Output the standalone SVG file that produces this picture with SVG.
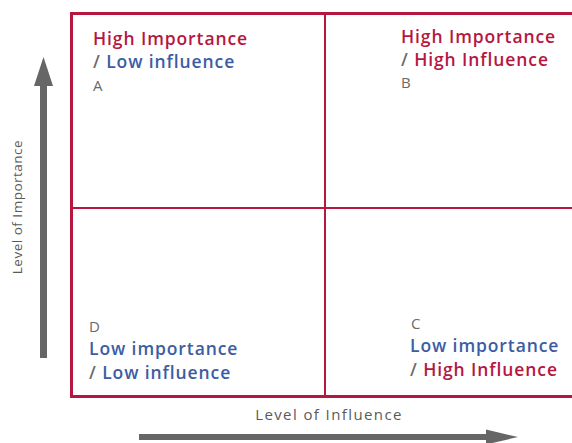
<svg xmlns="http://www.w3.org/2000/svg" width="572" height="443" viewBox="0 0 572 443">
<style>
.t{font-family:"Open Sans","Noto Sans",sans-serif;font-weight:600;font-size:17.5px;letter-spacing:0.9px}
.r{fill:#b5173f}.b{fill:#3c5da3}.g{fill:#6b6b6b}
.l{font-family:"Open Sans","Noto Sans",sans-serif;fill:#5a5a5a}
.lt{font-family:"Open Sans","Noto Sans",sans-serif;font-size:15px;font-weight:500;fill:#6a6a6a}
.bd{fill:none;stroke:#b5173f}
</style>
<rect width="572" height="443" fill="#fff"/>
<g id="connectors">
<rect class="bd" x="71.5" y="13.5" width="520" height="383" stroke-width="3"/>
<line class="bd" x1="325" y1="13" x2="325" y2="397" stroke-width="2"/>
<line class="bd" x1="71" y1="208" x2="572" y2="208" stroke-width="2"/>
<path d="M40 358 V86 H34 L43.5 57 L53 86 H47 V358 Z" fill="#666"/>
<path d="M139 434 H486 V429.5 L518 437 L486 444.5 V440 H139 Z" fill="#666"/>
</g>
<g id="axis-y"><text class="l" font-size="13.5" letter-spacing="0.5" transform="translate(22 207) rotate(-90)" text-anchor="middle">Level of Importance</text></g>
<g id="axis-x"><text class="l" font-size="15" letter-spacing="1.4" x="329" y="420" text-anchor="middle">Level of Influence</text></g>
<g id="A">
<text class="t r" x="93" y="45">High Importance</text>
<text class="t" x="93" y="68"><tspan class="g">/ </tspan><tspan class="b">Low influence</tspan></text>
<text class="lt" x="93" y="91">A</text>
</g>
<g id="B">
<text class="t r" x="401" y="43">High Importance</text>
<text class="t" x="401" y="66"><tspan class="g">/ </tspan><tspan class="r">High Influence</tspan></text>
<text class="lt" x="401" y="88">B</text>
</g>
<g id="D">
<text class="lt" x="89" y="332">D</text>
<text class="t b" x="89" y="355">Low importance</text>
<text class="t" x="89" y="379"><tspan class="g">/ </tspan><tspan class="b">Low influence</tspan></text>
</g>
<g id="C">
<text class="lt" x="411" y="329">C</text>
<text class="t b" x="410" y="352">Low importance</text>
<text class="t" x="410" y="376"><tspan class="g">/ </tspan><tspan class="r">High Influence</tspan></text>
</g>
</svg>
